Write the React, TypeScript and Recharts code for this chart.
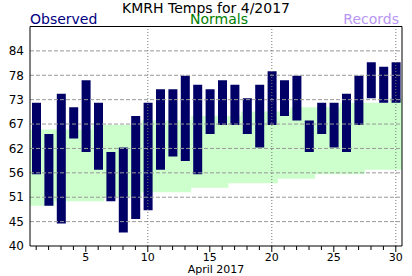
import { Area, Bar, ComposedChart, ReferenceLine, XAxis, YAxis } from "recharts";

// April 2017 daily temps at KMRH
const days = [
  1, 2, 3, 4, 5, 6, 7, 8, 9, 10, 11, 12, 13, 14, 15, 16, 17, 18, 19, 20, 21,
  22, 23, 24, 25, 26, 27, 28, 29, 30,
];
const obsHigh = [
  72, 65, 74, 71, 77, 72, 61, 62, 69, 72, 75, 75, 78, 76, 75, 77, 76, 73, 76,
  79, 77, 78, 68, 72, 72, 74, 78, 81, 80, 81,
];
const obsLow = [
  56, 49, 45, 64, 61, 57, 50, 43, 46, 48, 57, 60, 59, 56, 65, 67, 67, 65, 62,
  67, 69, 68, 61, 65, 62, 61, 67, 73, 72, 72,
];
const normHigh = [
  66, 66, 66, 66, 66, 67, 67, 67, 67, 68, 68, 68, 68, 69, 69, 69, 69, 70, 70,
  70, 70, 71, 71, 71, 71, 72, 72, 72, 72, 73,
];
const normLow = [
  49, 49, 50, 50, 50, 50, 51, 51, 51, 52, 52, 52, 52, 53, 53, 53, 54, 54, 54,
  54, 55, 55, 55, 56, 56, 56, 56, 57, 57, 57,
];

const Y_MIN = 40;
const Y_MAX = 89;
const yTicks = Array.from({ length: 9 }, (_, k) => Y_MIN + (k * (Y_MAX - Y_MIN)) / 9);
const majorGridDays = [10, 20, 30];

const FONT = "DejaVu Sans";

const obsRows = days.map((day, i) => ({
  day,
  range: [obsLow[i], obsHigh[i]],
}));

// normals band as a step area that covers each whole day
const normRows = [
  ...days.map((day, i) => ({ x: day - 0.5, band: [normLow[i], normHigh[i]] })),
  {
    x: days[days.length - 1] + 0.5,
    band: [normLow[normLow.length - 1], normHigh[normHigh.length - 1]],
  },
];

function DayTick(props: any) {
  const { x, y, payload } = props;
  const major = payload.value % 5 === 0;
  return (
    <g>
      <line x1={x} x2={x} y1={y} y2={y + (major ? 6 : 4)} stroke="#000" />
      {major && (
        <text
          x={x}
          y={y + 15}
          textAnchor="middle"
          fontSize={11}
          fontFamily={FONT}
          fill="#000"
        >
          {payload.value}
        </text>
      )}
    </g>
  );
}

export default function App() {
  return (
    <div
      style={{
        position: "absolute",
        left: 0,
        top: 0,
        width: 412,
        height: 276,
        background: "#fff",
        fontFamily: FONT,
      }}
    >
      <div
        style={{
          position: "absolute",
          top: 0,
          left: 0,
          width: 412,
          textAlign: "center",
          fontSize: 14,
          color: "#000",
        }}
      >
        KMRH Temps for 4/2017
      </div>
      <div style={{ position: "absolute", top: 11, left: 30, fontSize: 14, color: "#000080" }}>
        Observed
      </div>
      <div style={{ position: "absolute", top: 11, left: 190, fontSize: 14, color: "#008000" }}>
        Normals
      </div>
      <div style={{ position: "absolute", top: 11, right: 13, fontSize: 14, color: "#b896f2" }}>
        Records
      </div>

      <div style={{ position: "absolute", left: 0, top: 0 }}>
        <ComposedChart
          width={412}
          height={276}
          data={obsRows}
          margin={{ top: 26.5, right: 10, bottom: 0, left: 0 }}
        >
          <XAxis
            xAxisId="num"
            dataKey="x"
            type="number"
            domain={[0.5, 30.5]}
            ticks={days}
            interval={0}
            allowDataOverflow
            height={30}
            axisLine={{ stroke: "#000" }}
            tickLine={false}
            tickSize={0}
            tickMargin={0}
            tick={<DayTick />}
            label={{
              value: "April 2017",
              position: "insideBottom",
              offset: 3,
              fontSize: 11,
              fontFamily: FONT,
              fill: "#000",
            }}
          />
          <XAxis xAxisId="cat" dataKey="day" hide height={0} />
          <YAxis
            domain={[Y_MIN, Y_MAX]}
            ticks={yTicks}
            interval={0}
            allowDataOverflow
            width={30}
            axisLine={{ stroke: "#000" }}
            tickLine={false}
            tickSize={0}
            tickMargin={6}
            tickFormatter={(v: number) => String(Math.round(v))}
            tick={{ fontSize: 12, fill: "#000", fontFamily: FONT }}
          />

          <Area
            xAxisId="num"
            data={normRows}
            dataKey="band"
            type="stepAfter"
            fill="#ccffcc"
            fillOpacity={1}
            stroke="none"
            isAnimationActive={false}
          />
          <Bar
            xAxisId="cat"
            dataKey="range"
            fill="#000066"
            barSize={9}
            isAnimationActive={false}
          />

          {yTicks.slice(1).map((v) => (
            <ReferenceLine
              key={v}
              xAxisId="num"
              y={v}
              stroke="#999"
              strokeDasharray="4 2"
            />
          ))}
          {majorGridDays.map((d) => (
            <ReferenceLine
              key={d}
              xAxisId="num"
              x={d}
              stroke="#777"
              strokeDasharray="1 2"
            />
          ))}
          <ReferenceLine xAxisId="num" y={Y_MAX} stroke="#000" />
          <ReferenceLine xAxisId="num" x={30.5} stroke="#000" />
        </ComposedChart>
      </div>
    </div>
  );
}
